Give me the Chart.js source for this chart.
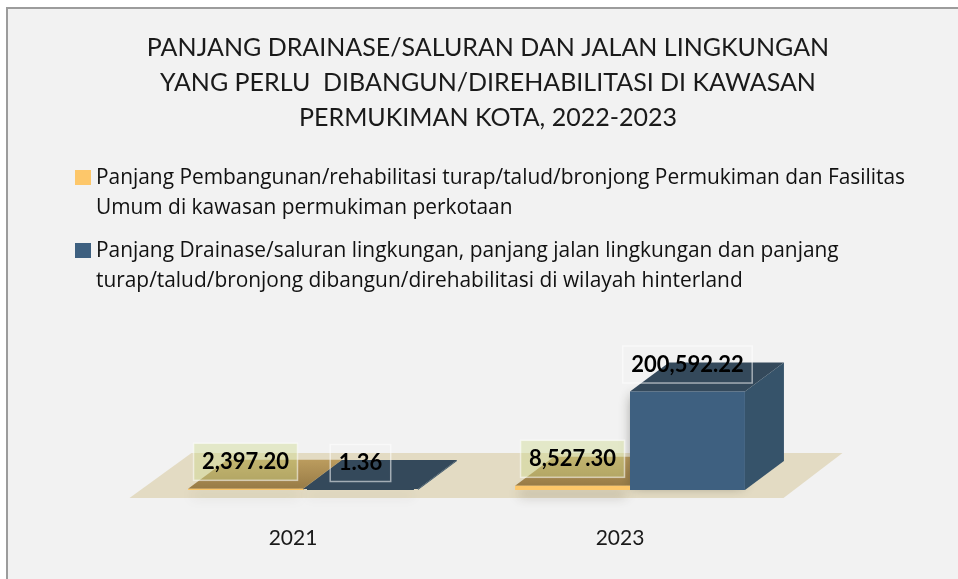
<!DOCTYPE html>
<html><head><meta charset="utf-8">
<style>
html,body{margin:0;padding:0;background:#fff;width:958px;height:579px;overflow:hidden}
#frame{position:absolute;left:6px;top:7px;width:952px;height:572px;box-sizing:border-box;border-left:2px solid #9c9c9c;border-top:2px solid #9c9c9c;background:#f2f2f2}
canvas{position:absolute;left:0;top:0}
</style>
<script src="https://cdn.jsdelivr.net/npm/chart.js@4/dist/chart.umd.min.js"></script>
</head><body>
<div id="frame"><canvas id="c" width="950" height="570"></canvas></div>
<script>
const categories = ['2021', '2023'];
const orangeValues = [2397.20, 8527.30];
const blueValues = [1.36, 200592.22];
const orangeLabel = ['Panjang Pembangunan/rehabilitasi turap/talud/bronjong Permukiman dan Fasilitas', 'Umum di kawasan permukiman perkotaan'];
const blueLabel = ['Panjang Drainase/saluran lingkungan, panjang jalan lingkungan dan panjang', 'turap/talud/bronjong dibangun/direhabilitasi di wilayah hinterland'];
const titleLines = ['PANJANG DRAINASE/SALURAN DAN JALAN LINGKUNGAN', 'YANG PERLU  DIBANGUN/DIREHABILITASI DI KAWASAN', 'PERMUKIMAN KOTA, 2022-2023'];
const DEPTH_X = 39, DEPTH_Y = 29;

const fmt = v => v.toLocaleString('en-US', {minimumFractionDigits: 2, maximumFractionDigits: 2});

function swatch(color) {
  const c = document.createElement('canvas');
  c.width = 16; c.height = 15;
  const g = c.getContext('2d');
  g.fillStyle = color; g.fillRect(0, 0, 16, 15);
  return c;
}

const stage3d = {
  id: 'stage3d',
  afterLayout(chart) {
    const lg = chart.legend;
    lg.left = 20.5;
    lg.top -= 40;
    lg.bottom += 20;
  },
  beforeDatasetsDraw(chart) {
    const {ctx} = chart, x = chart.scales.x;
    const base = chart.scales.y.getPixelForValue(0);
    ctx.save();
    ctx.fillStyle = '#e3dbc3';
    ctx.beginPath();
    ctx.moveTo(x.left - 10, base + 8);
    ctx.lineTo(x.right - 10, base + 8);
    ctx.lineTo(x.right + 49, base - 37);
    ctx.lineTo(x.left + 52, base - 37);
    ctx.closePath();
    ctx.fill();
    [0, 1].forEach(di => {
      chart.getDatasetMeta(di).data.forEach(bar => {
        const p = bar.getProps(['x', 'y', 'base', 'width'], true);
        const l = p.x - p.width / 2, r = p.x + p.width / 2, t = Math.min(p.y, p.base - 1), b = p.base;
        const tall = b - t > 20;
        ctx.save();
        ctx.shadowColor = tall ? 'rgba(40,40,30,0.5)' : 'rgba(60,50,30,0.38)';
        ctx.shadowBlur = 12;
        ctx.shadowOffsetY = tall ? 0 : 6;
        ctx.fillStyle = di ? '#34495a' : '#b0935a';
        ctx.fillRect(tall ? l + 2 : l + 4, tall ? t + 4 : t, tall ? p.width - 4 : p.width - 8, tall ? b - t - 8 : b - t);
        ctx.restore();
        ctx.fillStyle = di ? '#36536a' : '#b8985a';
        ctx.beginPath();
        ctx.moveTo(r, t); ctx.lineTo(r + DEPTH_X, t - DEPTH_Y); ctx.lineTo(r + DEPTH_X, b - DEPTH_Y); ctx.lineTo(r, b);
        ctx.closePath(); ctx.fill();
        if (di) {
          ctx.fillStyle = '#34495b';
        } else {
          const g = ctx.createLinearGradient(0, t, 0, t - DEPTH_Y);
          g.addColorStop(0, '#987b46');
          g.addColorStop(1, '#bb9c5e');
          ctx.fillStyle = g;
        }
        ctx.beginPath();
        ctx.moveTo(l, t); ctx.lineTo(r, t); ctx.lineTo(r + DEPTH_X, t - DEPTH_Y); ctx.lineTo(l + DEPTH_X, t - DEPTH_Y);
        ctx.closePath(); ctx.fill();
      });
    });
    ctx.restore();
  },
  afterDatasetsDraw(chart) {
    const {ctx} = chart;
    ctx.save();
    ctx.font = 'bold 22px Lato';
    ctx.textAlign = 'center';
    ctx.textBaseline = 'middle';
    [0, 1].forEach(di => {
      const ds = chart.data.datasets[di];
      chart.getDatasetMeta(di).data.forEach((bar, i) => {
        const p = bar.getProps(['x', 'y'], true);
        const text = fmt(ds.data[i]);
        const w = ctx.measureText(text).width + 17, h = 37;
        const cy = p.y - 27;
        if (!di) { ctx.fillStyle = 'rgba(204,217,137,0.4)'; ctx.fillRect(p.x - w / 2, cy - h / 2, w, h); }
        ctx.strokeStyle = 'rgba(255,255,255,0.55)';
        ctx.lineWidth = 1.5;
        ctx.strokeRect(p.x - w / 2, cy - h / 2, w, h);
        ctx.fillStyle = '#000';
        ctx.fillText(text, p.x, cy);
      });
    });
    ctx.restore();
  }
};

new Chart(document.getElementById('c'), {
  type: 'bar',
  plugins: [stage3d],
  data: {
    labels: categories,
    datasets: [
      {label: orangeLabel, data: orangeValues, backgroundColor: '#fdc76a', borderWidth: 0, barPercentage: 1, categoryPercentage: 0.703},
      {label: blueLabel, data: blueValues, backgroundColor: '#3e6080', borderWidth: 0, barPercentage: 1, categoryPercentage: 0.703}
    ]
  },
  options: {
    responsive: false,
    animation: false,
    layout: {padding: {left: 10, top: 0, right: 0, bottom: 0}},
    plugins: {
      tooltip: {enabled: false},
      title: {
        display: true,
        text: titleLines,
        color: '#1a1a1a',
        font: {family: 'Lato', size: 25, weight: 'normal', lineHeight: 1.39},
        padding: {top: 22, bottom: 20}
      },
      legend: {
        display: true,
        position: 'top',
        align: 'start',
        labels: {
          usePointStyle: true, boxWidth: 5, boxHeight: 15, color: '#111', padding: 52,
          font: {family: 'Open Sans', size: 20.9, lineHeight: 1.44},
          generateLabels(chart) {
            return chart.data.datasets.map((d, i) => ({text: d.label, fillStyle: d.backgroundColor, strokeStyle: d.backgroundColor, lineWidth: 0, datasetIndex: i, fontColor: '#111', pointStyle: swatch(d.backgroundColor)}));
          }
        }
      }
    },
    scales: {
      x: {
        grid: {display: false}, border: {display: false},
        ticks: {color: '#1a1a1a', font: {family: 'Lato', size: 21}, padding: 28, labelOffset: -10, maxRotation: 0},
        afterFit(s) { s.height = 89; }
      },
      y: {
        min: 0, max: 364500,
        grid: {display: false}, border: {display: false},
        ticks: {display: false},
        afterFit(s) { s.width = 121.5; }
      },
      r: {
        position: 'right',
        grid: {display: false}, border: {display: false},
        ticks: {display: false},
        afterFit(s) { s.width = 164.5; }
      }
    }
  }
});
</script>
</body></html>
